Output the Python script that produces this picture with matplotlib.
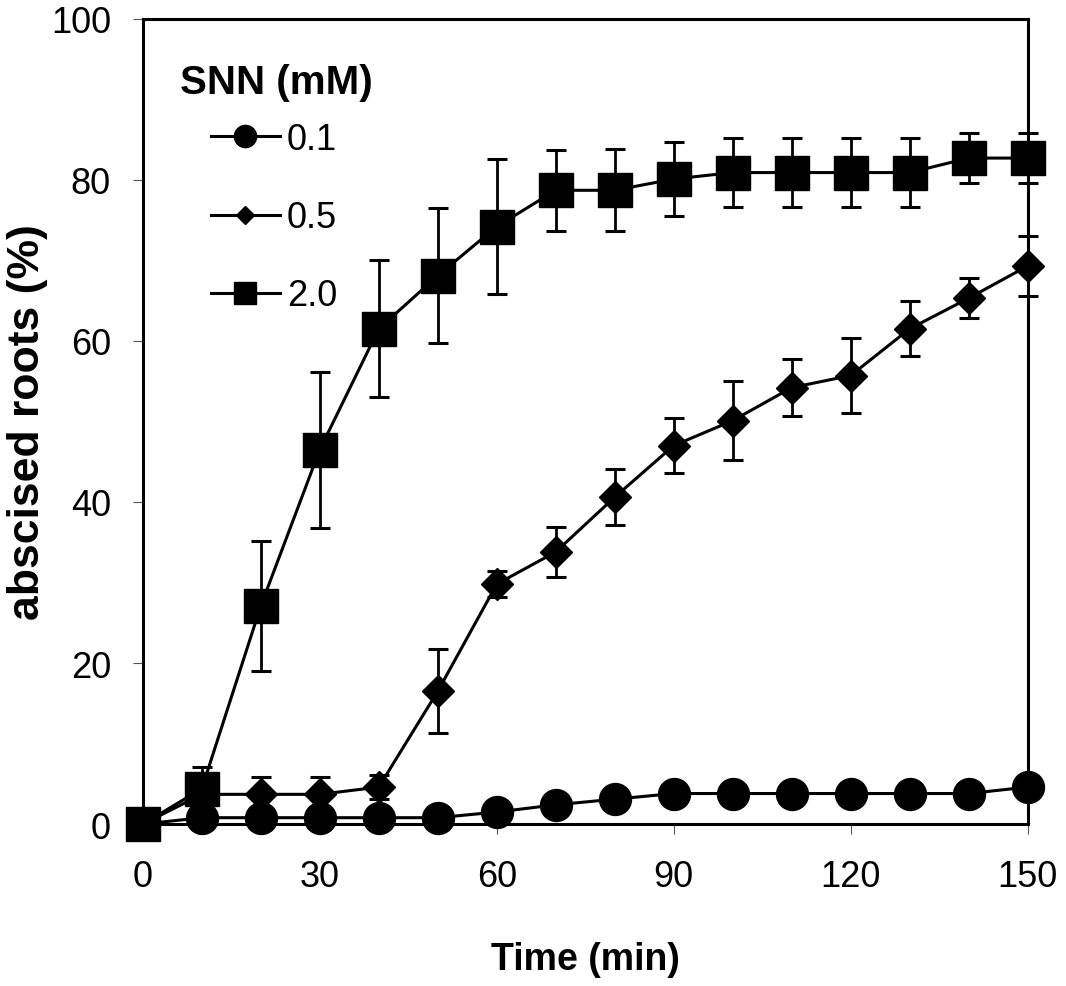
import matplotlib.pyplot as plt
from matplotlib.lines import Line2D

plt.rcParams['font.family'] = ['Liberation Sans', 'DejaVu Sans']

# time points (min) and % abscised roots for each SNN dose
time_min = [0, 10, 20, 30, 40, 50, 60, 70, 80, 90, 100, 110, 120, 130, 140, 150]
snn_01 = [0, 0.8, 0.8, 0.8, 0.8, 0.8, 1.5, 2.4, 3.1, 3.8, 3.8, 3.8, 3.8, 3.8, 3.8, 4.6]
snn_05 = [0, 3.7, 3.7, 3.7, 4.6, 16.5, 29.8, 33.8, 40.6, 47.0, 50.1, 54.2, 55.7, 61.5, 65.3, 69.3]
snn_05_err = [0, 2.0, 2.1, 2.1, 1.5, 5.2, 1.6, 3.1, 3.5, 3.4, 4.9, 3.5, 4.7, 3.4, 2.5, 3.7]
snn_20 = [0, 4.4, 27.1, 46.5, 61.5, 68.1, 74.2, 78.7, 78.7, 80.1, 80.9, 80.9, 80.9, 80.9, 82.7, 82.7]
snn_20_err = [0, 2.7, 8.1, 9.7, 8.5, 8.4, 8.4, 5.0, 5.1, 4.6, 4.3, 4.3, 4.3, 4.3, 3.1, 3.1]
labels = ['0.1', '0.5', '2.0']
xticks = [0, 30, 60, 90, 120, 150]
yticks = [0, 20, 40, 60, 80, 100]

fig = plt.figure(figsize=(10.66, 9.87), dpi=100)
ax = fig.add_axes([0.134, 0.164, 0.830, 0.816])

lw = 2.2
ax.plot(time_min, snn_01, color='black', lw=lw, marker='o', ms=23, clip_on=False, zorder=3)
ax.errorbar(time_min, snn_05, yerr=snn_05_err, color='black', lw=lw, marker='D', ms=16,
            capsize=7, capthick=2.2, elinewidth=2.0, clip_on=False, zorder=4)
ax.errorbar(time_min, snn_20, yerr=snn_20_err, color='black', lw=lw, marker='s', ms=24,
            capsize=7, capthick=2.2, elinewidth=2.0, clip_on=False, zorder=5)

ax.set_xlim(0, 150)
ax.set_ylim(0, 100)
ax.set_xticks(xticks)
ax.set_yticks(yticks)
ax.tick_params(direction='out', length=7, width=0.8, color='#555555', labelsize=26, pad=16)
ax.tick_params(axis='x', pad=18)
for s in ax.spines.values():
    s.set_linewidth(2.2)
    s.set_zorder(6)

ax.set_xlabel('Time (min)', fontsize=27, fontweight='bold', labelpad=34)
ax.set_ylabel('abscised roots (%)', fontsize=32, fontweight='bold', labelpad=2)

# legend: title as separate left aligned text
ax.text(0.042, 0.922, 'SNN (mM)', transform=ax.transAxes, fontsize=29, fontweight='bold',
        ha='left', va='center')
handles = [Line2D([], [], color='black', lw=lw, marker=m, ms=s)
           for m, s in zip(['o', 'D', 's'], [16, 9, 16])]
ax.legend(handles, labels, loc='upper left', bbox_to_anchor=(0.077, 0.872), frameon=False,
          fontsize=26, handlelength=1.9, handletextpad=0.2, labelspacing=1.2,
          borderpad=0, borderaxespad=0)

fig.savefig('out.png', dpi=100)
